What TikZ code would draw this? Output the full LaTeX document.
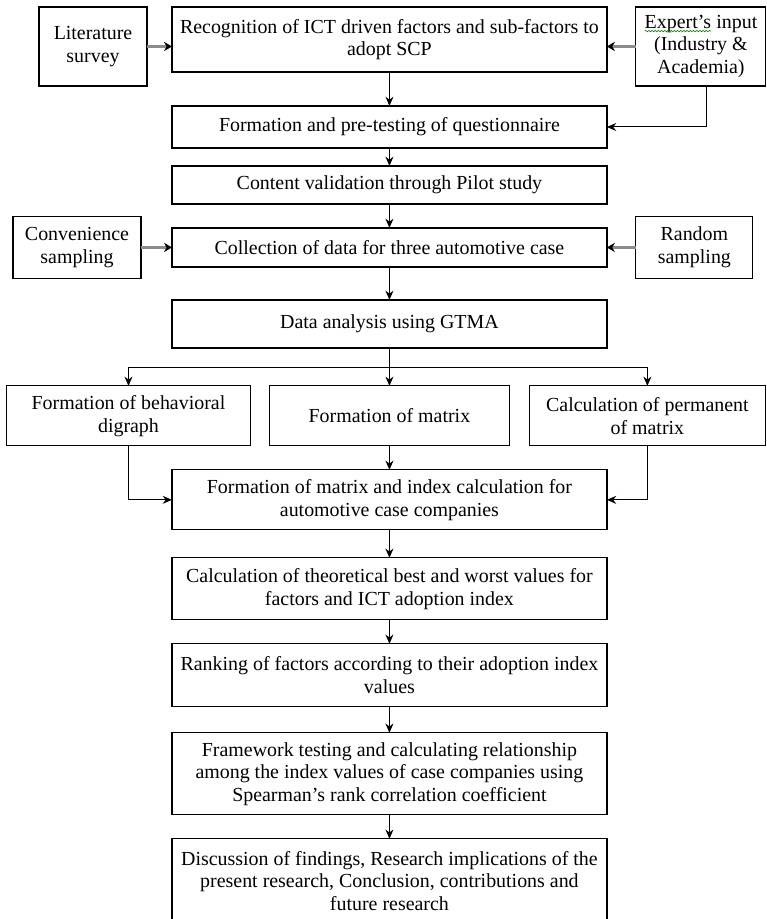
\documentclass[tikz,border=0pt]{standalone}
\usepackage{fontspec}
\setmainfont{Liberation Serif}
\usepackage{tikz}
\usetikzlibrary{positioning, arrows.meta, decorations.pathmorphing}
\tikzstyle{process} = [rectangle, minimum width=11.51cm, align=center, inner sep=2pt, outer sep=0pt, draw=black, line width=0.9pt, fill=white]
\tikzstyle{input} = [rectangle, align=center, inner sep=2pt, outer sep=0pt, draw=black, line width=0.9pt, fill=white]
\tikzstyle{arrow} = [line width=0.75pt, -{Stealth[length=7pt, width=6pt]}]
\tikzstyle{feed} = [line width=2pt, draw=black!45, -{Stealth[length=6pt, width=7pt, color=black]}]
\newcommand{\spellmark}[1]{\tikz[baseline=(w.base)]{\node[inner sep=0pt, outer sep=0pt, minimum width=0pt, minimum height=0pt, draw=none, fill=none] (w) {#1}; \draw[green!55!black, line width=0.5pt, decorate, decoration={snake, amplitude=0.5pt, segment length=2.4pt}] ([yshift=-2pt]w.base west) -- ([yshift=-2pt]w.base east);}}

\begin{document}
\begin{tikzpicture}[font=\fontsize{15}{17}\selectfont]
\useasboundingbox (0,0) rectangle (20.29,-24.32);

\node (rec) [process, minimum height=1.72cm, anchor=north west] at (4.551,-0.185) {Recognition of ICT driven factors and sub-factors to\\adopt SCP};
\node (lit) [input, minimum width=2.857cm, minimum height=2.09cm, below left=0cm and 0.661cm of rec.north west] {Literature\\survey};
\node (expert) [input, minimum width=3.44cm, minimum height=2.09cm, below right=0cm and 0.767cm of rec.north east] {\spellmark{Expert's} input\\(Industry \&\\Academia)};
\node (form) [process, minimum height=1.111cm, below=0.9cm of rec] {Formation and pre-testing of questionnaire};
\node (pilot) [process, minimum height=1.005cm, below=0.476cm of form] {Content validation through Pilot study};
\node (collect) [process, minimum height=1.032cm, below=0.635cm of pilot] {Collection of data for three automotive case};
\node (conv) [input, minimum width=3.387cm, minimum height=1.64cm, left=0.82cm of collect] {Convenience\\sampling};
\node (random) [input, minimum width=3.096cm, minimum height=1.64cm, right=0.767cm of collect] {Random\\sampling};
\node (gtma) [process, minimum height=1.27cm, below=0.873cm of collect] {Data analysis using GTMA};
\node (matrix) [input, minimum width=6.35cm, minimum height=1.587cm, below=1.005cm of gtma] {Formation of matrix};
\node (digraph) [input, minimum width=6.456cm, minimum height=1.587cm, left=0.503cm of matrix] {Formation of behavioral\\digraph};
\node (perm) [input, minimum width=6.244cm, minimum height=1.587cm, right=0.529cm of matrix] {Calculation of permanent\\of matrix};
\node (index) [process, minimum height=1.587cm, below=0.635cm of matrix] {Formation of matrix and index calculation for\\automotive case companies};
\node (bestworst) [process, minimum height=1.64cm, below=0.741cm of index] {Calculation of theoretical best and worst values for\\factors and ICT adoption index};
\node (rank) [process, minimum height=1.667cm, below=0.635cm of bestworst] {Ranking of factors according to their adoption index\\values};
\node (test) [process, minimum height=2.17cm, below=0.688cm of rank] {Framework testing and calculating relationship\\among the index values of case companies using\\Spearman's rank correlation coefficient};
\node (findings) [process, minimum height=2.22cm, below=0.635cm of test] {Discussion of findings, Research implications of the\\present research, Conclusion, contributions and\\future research};

\draw [feed] (lit) -- (lit -| rec.west);
\draw [feed] (expert) -- (expert -| rec.east);
\draw [feed] (conv) -- (conv -| collect.west);
\draw [feed] (random) -- (random -| collect.east);
\draw [arrow] (rec) -- (form);
\draw [arrow] ([xshift=0.16cm]expert.south) |- (form.east);
\draw [arrow] (form) -- (pilot);
\draw [arrow] (pilot) -- (collect);
\draw [arrow] (collect) -- (gtma);
\draw [line width=0.75pt] (gtma.south) -- ++(0,-0.53) coordinate (split);
\draw [arrow] (split) -| (digraph.north);
\draw [arrow] (split) -- (matrix.north);
\draw [arrow] (split) -| (perm.north);
\draw [arrow] (digraph.south) |- (index.west);
\draw [arrow] (matrix) -- (index);
\draw [arrow] (perm.south) |- (index.east);
\draw [arrow] (index) -- (bestworst);
\draw [arrow] (bestworst) -- (rank);
\draw [arrow] (rank) -- (test);
\draw [arrow] (test) -- (findings);

\end{tikzpicture}
\end{document}
